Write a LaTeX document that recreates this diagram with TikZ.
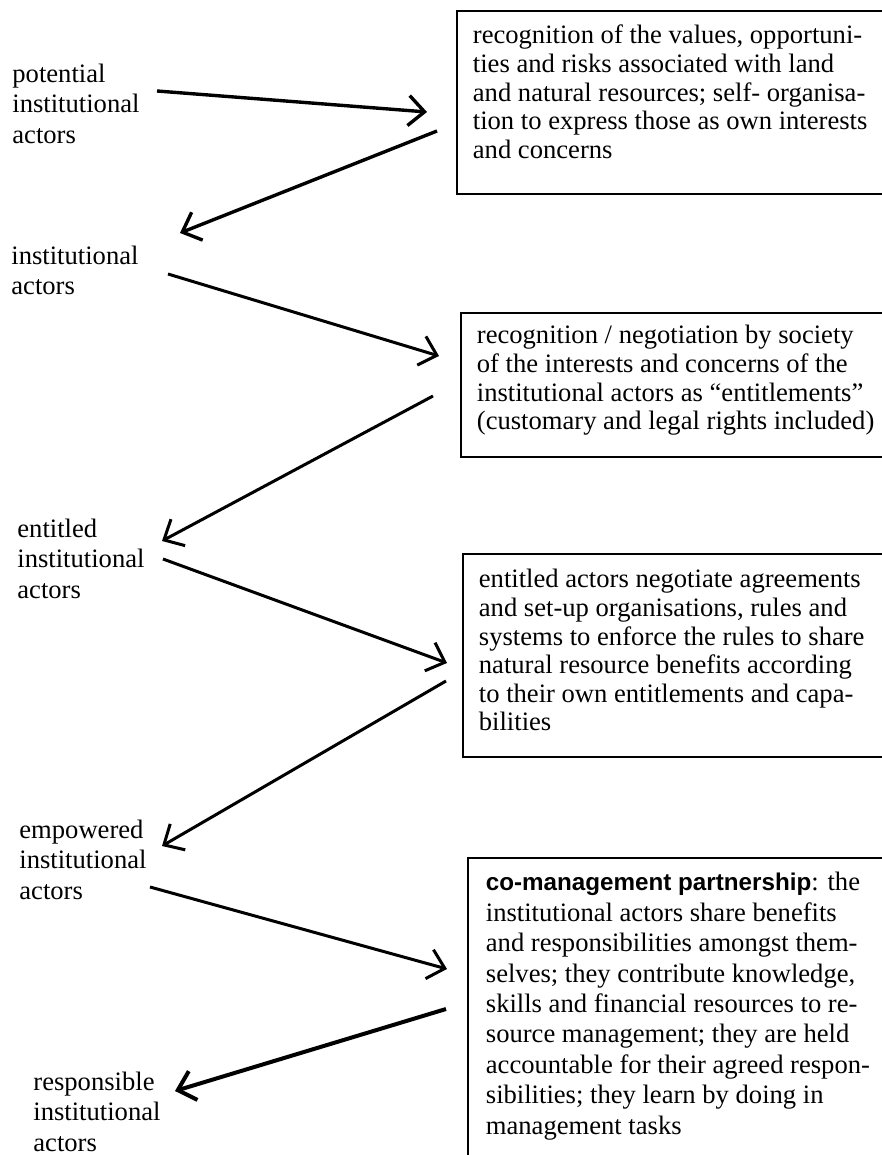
\documentclass[tikz,border=0pt]{standalone}
\usepackage{fontspec}
\setmainfont{Liberation Serif}
\newfontfamily\headsans{Liberation Sans}
\usepackage{tikz}
\usetikzlibrary{arrows.meta}

\tikzset{
  actor/.style={anchor=north west, inner sep=0pt, align=left,
    font=\fontsize{13.3}{15.2}\selectfont},
  stagebox/.style={draw, line width=0.9pt, anchor=north west, inner xsep=8pt,
    inner ysep=0pt, align=left, font=\fontsize{13.3}{14.3}\selectfont},
  flow/.style={-{Straight Barb[length=8pt,width=15pt]}, line width=1.5pt},
}
% first line of a box, wide enough to push the frame past the page edge
\newcommand{\firstline}[2]{\makebox[215pt][l]{\rule{0pt}{#1}#2}}

\begin{document}
\begin{tikzpicture}[x=0.5pt,y=-0.5pt]
  % page in pixel units, y downwards
  \useasboundingbox (0,0) rectangle (882,1155);
  \clip (0,0) rectangle (882,1155);

  % stages of the actors (left column)
  \node[actor] (pot)  at (12,62)   {\rule{0pt}{10pt}potential\\institutional\\actors};
  \node[actor] (inst) at (11,244)  {\rule{0pt}{10pt}institutional\\actors};
  \node[actor] (entl) at (17,517)  {\rule{0pt}{10pt}entitled\\institutional\\actors};
  \node[actor] (empw) at (19,818)  {\rule{0pt}{10pt}empowered\\institutional\\actors};
  \node[actor] (resp) at (33,1070) {\rule{0pt}{10pt}responsible\\institutional\\actors};

  % processes (right column), boxes run past the right edge
  \node[stagebox] (box1) at (456,10) {\firstline{16.5pt}{recognition of the values, opportuni-}\\
    ties and risks associated with land\\
    and natural resources; self- organisa-\\
    tion to express those as own interests\\
    and concerns\rule[-18pt]{0pt}{18pt}};
  \node[stagebox] (box2) at (460,312) {\firstline{15.5pt}{recognition / negotiation by society}\\
    of the interests and concerns of the\\
    institutional actors as “entitlements”\\
    (customary and legal rights included)\rule[-13.5pt]{0pt}{13.5pt}};
  \node[stagebox] (box3) at (462,553) {\firstline{17pt}{entitled actors negotiate agreements}\\
    and set-up organisations, rules and\\
    systems to enforce the rules to share\\
    natural resource benefits according\\
    to their own entitlements and capa-\\
    bilities\rule[-13pt]{0pt}{13pt}};
  \node[stagebox, inner xsep=9pt, font=\fontsize{13.3}{15.2}\selectfont] (box4) at (467,857)
    {\firstline{16.5pt}{{\headsans\fontsize{12.1}{15.2}\selectfont\bfseries co-management partnership}: the}\\
    institutional actors share benefits\\
    and responsibilities amongst them-\\
    selves; they contribute knowledge,\\
    skills and financial resources to re-\\
    source management; they are held\\
    accountable for their agreed respon-\\
    sibilities; they learn by doing in\\
    management tasks\rule[-40pt]{0pt}{40pt}};

  % arrow ends
  \coordinate (pot-out)  at (157,91);   \coordinate (box1-in)  at (427,112);
  \coordinate (box1-out) at (437,131);  \coordinate (inst-in)  at (180,233);
  \coordinate (inst-out) at (168,274);  \coordinate (box2-in)  at (439,356);
  \coordinate (box2-out) at (433,396);  \coordinate (entl-in)  at (162,541);
  \coordinate (entl-out) at (163,559);  \coordinate (box3-in)  at (447,663);
  \coordinate (box3-out) at (446,681);  \coordinate (empw-in)  at (162,846);
  \coordinate (empw-out) at (150,887);  \coordinate (box4-in)  at (447,969);
  \coordinate (box4-out) at (446,1009); \coordinate (resp-in)  at (175,1091);

  \draw[flow, line width=1.7pt] (pot-out) -- (box1-in);
  \draw[flow, line width=1.7pt] (box1-out) -- (inst-in);
  \foreach \a/\b in {inst-out/box2-in, box2-out/entl-in, entl-out/box3-in,
                     box3-out/empw-in, empw-out/box4-in}
    \draw[flow] (\a) -- (\b);
  \draw[flow, line width=2pt] (box4-out) -- (resp-in);
\end{tikzpicture}
\end{document}
